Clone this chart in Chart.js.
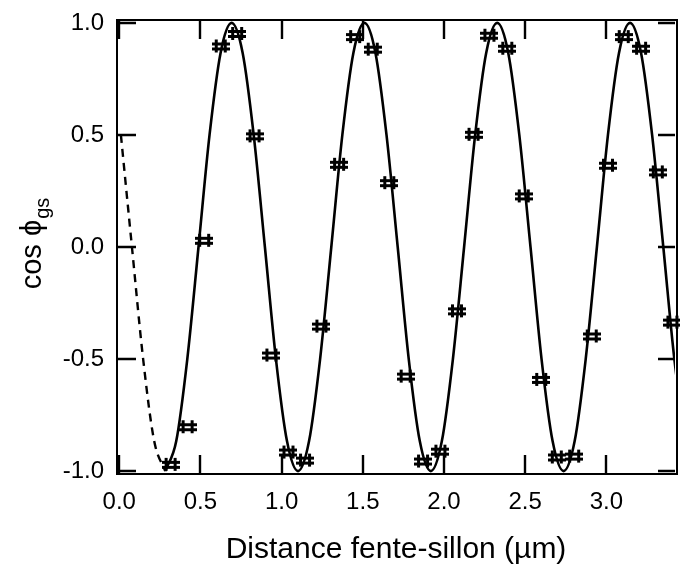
<!DOCTYPE html>
<html>
<head>
<meta charset="utf-8">
<script src="https://cdn.jsdelivr.net/npm/chart.js@4.4.1/dist/chart.umd.min.js"></script>
<style>
  html, body { margin: 0; padding: 0; background: #fff; }
  #wrap { width: 680px; height: 568px; }
</style>
</head>
<body>
<div id="wrap"><canvas id="cosChart" width="680" height="568"></canvas></div>
<script>
// measured points: distance (µm) and cos phi_gs
const markX = [0.316, 0.421, 0.523, 0.625, 0.726, 0.833, 0.937, 1.042, 1.144, 1.245,
  1.354, 1.453, 1.561, 1.663, 1.764, 1.871, 1.978, 2.080, 2.182, 2.280,
  2.390, 2.491, 2.599, 2.695, 2.802, 2.910, 3.010, 3.107, 3.214, 3.317, 3.407];
const markY = [-0.970, -0.802, 0.030, 0.897, 0.953, 0.496, -0.482, -0.915, -0.951, -0.353,
  0.369, 0.939, 0.883, 0.287, -0.576, -0.955, -0.911, -0.285, 0.503, 0.945,
  0.887, 0.228, -0.591, -0.937, -0.933, -0.397, 0.365, 0.939, 0.887, 0.335, -0.335];

// solid fitted curve
const fitX = [0.283, 0.351, 0.419, 0.488, 0.556, 0.624, 0.692, 0.760, 0.828, 0.897,
  0.965, 1.033, 1.101, 1.169, 1.237, 1.306, 1.374, 1.442, 1.510, 1.578,
  1.646, 1.715, 1.783, 1.851, 1.919, 1.987, 2.055, 2.124, 2.192, 2.260,
  2.328, 2.396, 2.464, 2.533, 2.601, 2.669, 2.737, 2.805, 2.873, 2.942,
  3.010, 3.078, 3.146, 3.214, 3.282, 3.351, 3.419, 3.487];
const fitY = [-1, -0.866, -0.5, 0, 0.5, 0.866, 1, 0.866, 0.5, 0,
  -0.5, -0.866, -1, -0.866, -0.5, 0, 0.5, 0.866, 1, 0.866,
  0.5, 0, -0.5, -0.866, -1, -0.866, -0.5, 0, 0.5, 0.866,
  1, 0.866, 0.5, 0, -0.5, -0.866, -1, -0.866, -0.5, 0,
  0.5, 0.866, 1, 0.866, 0.5, 0, -0.5, -0.866];

// dashed part before the first point
const dashX = [0.010, 0.078, 0.147, 0.215, 0.283];
const dashY = [0.5, 0.0, -0.5, -0.866, -1.0];

const xTicks = [0, 0.5, 1, 1.5, 2, 2.5, 3];
const yTicks = [-1, -0.5, 0, 0.5, 1];

const FONT = "'Liberation Sans', Arial, sans-serif";

function toPoints(xs, ys) {
  return xs.map((x, i) => ({ x: x, y: ys[i] }));
}

// "#" shaped marker
function makeMarker() {
  const c = document.createElement("canvas");
  c.width = 18;
  c.height = 15;
  const g = c.getContext("2d");
  g.fillStyle = "#000";
  g.fillRect(3, 1, 3, 13);
  g.fillRect(12, 1, 3, 13);
  g.fillRect(0, 4, 18, 3);
  g.fillRect(0, 9, 18, 3);
  return c;
}

const framePlugin = {
  id: "frame",
  afterDraw(chart) {
    const { ctx, chartArea: a, scales } = chart;
    ctx.save();
    ctx.strokeStyle = "#000";
    ctx.lineWidth = 2;
    ctx.strokeRect(a.left, a.top, a.right - a.left + 2, a.bottom - a.top);

    // inward ticks on all sides
    ctx.lineWidth = 2.4;
    ctx.beginPath();
    xTicks.forEach((v) => {
      const px = Math.round(scales.x.getPixelForValue(v));
      ctx.moveTo(px, a.bottom);
      ctx.lineTo(px, a.bottom - 19);
      ctx.moveTo(px, a.top);
      ctx.lineTo(px, a.top + 19);
    });
    yTicks.forEach((v) => {
      const py = Math.round(scales.y.getPixelForValue(v));
      ctx.moveTo(a.left, py);
      ctx.lineTo(a.left + 19, py);
      ctx.moveTo(a.right, py);
      ctx.lineTo(a.right - 17, py);
    });
    ctx.stroke();

    // y title with subscript
    ctx.translate(31, 244);
    ctx.rotate(-Math.PI / 2);
    ctx.fillStyle = "#000";
    ctx.textBaseline = "alphabetic";
    ctx.font = "29px " + FONT;
    const main = "cos \u03D5";
    const w1 = ctx.measureText(main).width;
    ctx.font = "20px " + FONT;
    const w2 = ctx.measureText("gs").width;
    const x0 = -(w1 + w2) / 2;
    ctx.font = "29px " + FONT;
    ctx.fillText(main, x0, 10);
    ctx.font = "20px " + FONT;
    ctx.fillText("gs", x0 + w1 + 1, 18);
    ctx.restore();
  },
};

const config = {
  type: "scatter",
  data: {
    datasets: [
      {
        data: toPoints(dashX, dashY),
        showLine: true,
        borderColor: "#000",
        borderWidth: 2.4,
        borderDash: [8, 6],
        pointRadius: 0,
        cubicInterpolationMode: "monotone",
      },
      {
        data: toPoints(fitX, fitY),
        showLine: true,
        borderColor: "#000",
        borderWidth: 2.6,
        pointRadius: 0,
        cubicInterpolationMode: "monotone",
      },
      {
        data: toPoints(markX, markY),
        showLine: false,
        pointStyle: makeMarker(),
        clip: false,
      },
    ],
  },
  options: {
    responsive: false,
    animation: false,
    events: [],
    layout: { padding: { top: 20, right: 0, left: 0, bottom: 0 } },
    plugins: { legend: { display: false }, tooltip: { enabled: false } },
    scales: {
      x: {
        type: "linear",
        min: -0.014,
        max: 3.423,
        afterFit: (scale) => {
          scale.height = 94;
          scale.paddingLeft = 0;
          scale.paddingRight = 0;
        },
        grid: { display: false, drawTicks: false },
        border: { display: false },
        ticks: {
          stepSize: 0.5,
          includeBounds: false,
          padding: 14,
          color: "#000",
          font: { family: FONT, size: 24 },
          callback: (v) => v.toFixed(1),
        },
        title: {
          display: true,
          text: "Distance fente-sillon (\u00B5m)",
          color: "#000",
          font: { family: FONT, size: 30 },
          padding: { top: 0, bottom: 0 },
        },
      },
      y: {
        type: "linear",
        min: -1.013,
        max: 1.013,
        afterFit: (scale) => {
          scale.width = 117;
          scale.paddingTop = 0;
          scale.paddingBottom = 0;
        },
        grid: { display: false, drawTicks: false },
        border: { display: false },
        ticks: {
          stepSize: 0.5,
          includeBounds: false,
          padding: 13,
          color: "#000",
          font: { family: FONT, size: 24 },
          callback: (v) => v.toFixed(1),
        },
      },
    },
  },
  plugins: [framePlugin],
};

const chart = new Chart(document.getElementById("cosChart"), config);
</script>
</body>
</html>
